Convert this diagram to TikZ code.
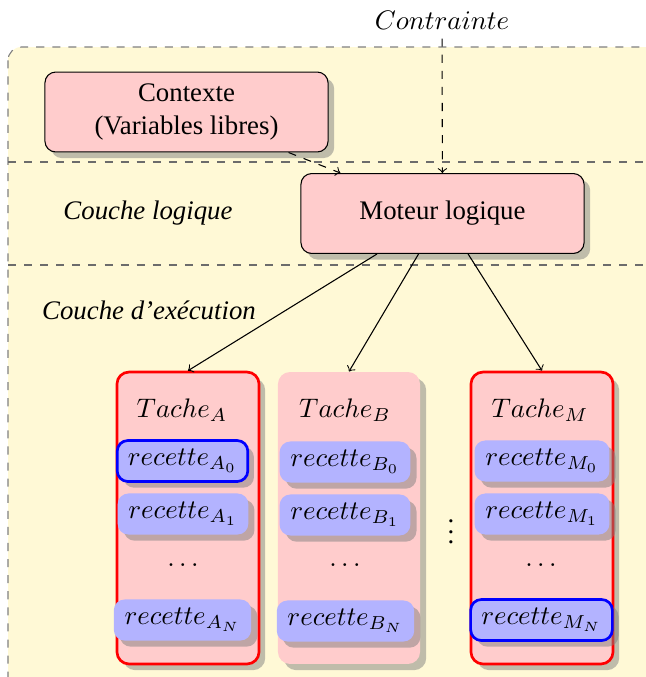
\documentclass[tikz,border=0pt]{standalone}
\usepackage[no-math]{fontspec}
\setmainfont{Liberation Serif}
\usetikzlibrary{shadows}
\definecolor{bgyellow}{RGB}{255,249,214}
\definecolor{pinkfill}{RGB}{255,204,204}
\definecolor{bluefill}{RGB}{179,179,255}
\begin{document}
\begin{tikzpicture}[x=0.373pt,y=-0.373pt,
  bigbox/.style={draw=black, fill=pinkfill, rounded corners=4pt, drop shadow,
    minimum width=105.6pt, minimum height=29.8pt, align=center, inner sep=2pt},
  tache/.style={fill=pinkfill, rounded corners=4.5pt, drop shadow,
    minimum width=53pt, minimum height=108.9pt, inner sep=0pt},
  redline/.style={draw=red, line width=1pt},
  recbox/.style={fill=bluefill, rounded corners=4pt, drop shadow,
    minimum height=15.3pt, inner xsep=4pt, inner ysep=0pt},
  blueline/.style={draw=blue, line width=1pt},
  sepline/.style={draw=gray!85!black, dashed, line width=0.5pt},
  bgframe/.style={draw=gray, dashed, fill=bgyellow, rounded corners=5pt, line width=0.4pt},
  layer/.style={font=\itshape},
  conn/.style={->, line width=0.4pt},
  dconn/.style={->, dashed, line width=0.4pt}]
\useasboundingbox (0,0) rectangle (646,677);
\clip (0,0) rectangle (646,677);
\path[bgframe] (8,47) rectangle (720,760);
\path[sepline] (8,162) -- (646,162);
\path[sepline] (8,265) -- (646,265);

\node[bigbox] (ctx) at (186.5,112) {Contexte\\(Variables libres)};
\node[bigbox] (mot) at (442.5,213.5) {Moteur logique};
\node (ctr) at (442,20) {$Contrainte$};
\node[layer] (cl) at (148,213) {Couche logique};
\node[layer] (ce) at (149,310) {Couche d'exécution};

\node[tache, redline] (ta) at (188,518) {};
\node[tache] (tb) at (349,518) {};
\node[tache, redline] (tm) at (542,518) {};

\node (tta) at (182,410) {$Tache_A$};
\node (ttb) at (345,410) {$Tache_B$};
\node (ttm) at (540,410) {$Tache_M$};

\node[recbox, blueline] (a0) at (182.5,461) {$recette_{A_0}$};
\node[recbox] (a1) at (183,514) {$recette_{A_1}$};
\node (ad) at (183,565) {$\dots$};
\node[recbox] (an) at (182.5,620) {$recette_{A_N}$};

\node[recbox] (b0) at (345,462) {$recette_{B_0}$};
\node[recbox] (b1) at (345,515) {$recette_{B_1}$};
\node (bd) at (345,565) {$\dots$};
\node[recbox] (bn) at (345.5,621) {$recette_{B_N}$};

\node[recbox] (m0) at (542,461) {$recette_{M_0}$};
\node[recbox] (m1) at (542,514) {$recette_{M_1}$};
\node (md) at (541,565) {$\dots$};
\node[recbox, blueline] (mn) at (541.5,620) {$recette_{M_N}$};

\node (vd) at (451,524) {$\vdots$};

\draw[dconn] (ctx) -- (mot);
\draw[dconn] (ctr) -- (mot);
\draw[conn] (mot) -- (ta.north);
\draw[conn] (mot) -- (tb.north);
\draw[conn] (mot) -- (tm.north);
\end{tikzpicture}
\end{document}
